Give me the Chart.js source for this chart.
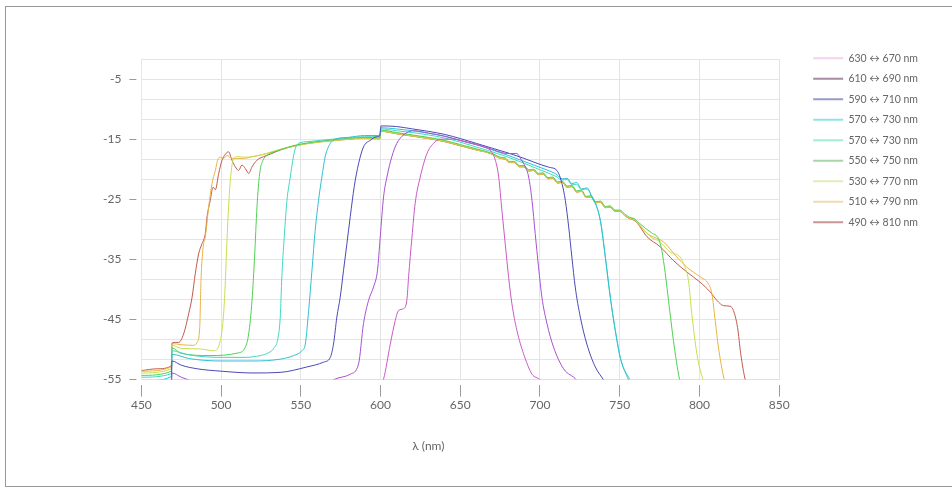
<!DOCTYPE html>
<html>
<head>
<meta charset="utf-8">
<script src="https://cdn.jsdelivr.net/npm/chart.js@4.4.1/dist/chart.umd.min.js"></script>
<style>
  html, body { margin: 0; padding: 0; background: #fff; overflow: hidden; }
  #wrap { position: relative; width: 952px; height: 490px; }
  #frame { position: absolute; left: 5px; top: 6px; width: 960px; height: 481px; border: 1.5px solid #999; box-sizing: border-box; pointer-events: none; }
</style>
</head>
<body>
<div id="wrap">
  <div id="frame"></div>
  <canvas id="spectrum"></canvas>
</div>
<script>
// filter pairs (legend order)
var labels = ['630 ↔ 670 nm', '610 ↔ 690 nm', '590 ↔ 710 nm', '570 ↔ 730 nm', '570 ↔ 730 nm',
              '550 ↔ 750 nm', '530 ↔ 770 nm', '510 ↔ 790 nm', '490 ↔ 810 nm'];
var lineColors = ['#c95ac6', '#a652cf', '#4a4ab6', '#33bfd4', '#3fd9c2', '#52d052', '#c6e04e', '#e8b444', '#c25a4a'];
var legendColors = ['#f3d3ec', '#a58ca4', '#9a9ac8', '#8fe3e6', '#a6ecd6', '#a9d6a6', '#e4ebb8', '#ecdcae', '#c99494'];

var xTicks = [450, 500, 550, 600, 650, 700, 750, 800, 850];
var yGrid = [-55, -51.667, -48.333, -45, -41.667, -38.333, -35, -31.667, -28.333, -25, -21.667, -18.333, -15, -11.667, -8.333, -5, -1.667];
var yLabels = [-55, -45, -35, -25, -15, -5];

// 630 <-> 670
var wl630 = [598, 601.9, 606.1, 609.2, 611.3, 614.4, 616.5, 617.6, 619.7, 621.7, 624.9, 629.1, 633.2, 637.4, 645, 655, 665, 669, 672, 674.1, 676.1, 678.2, 680.3, 682.4, 685.5, 689.7, 695, 700.2, 702];
var db630 = [-57, -54.9, -49.1, -45.2, -43.5, -43.2, -41.8, -37.9, -31.3, -25.7, -21.3, -17.4, -15.7, -15.0, -15.0, -15.6, -16.3, -16.9, -18.5, -21.3, -26.8, -32.4, -37.9, -42.4, -46.8, -50.7, -54.1, -55.1, -56];

// 610 <-> 690
var wl610 = [468.8, 469.2, 475, 481, 490, 560, 571.6, 581, 586.2, 589.3, 592.5, 595.6, 598.1, 599.8, 601.9, 604, 607.1, 610.2, 614.4, 620.7, 630, 640, 650, 660, 670, 680, 685.5, 688, 690.8, 692.9, 695, 697, 699.1, 701.2, 704.4, 708.5, 714.8, 723, 725];
var db610 = [-57, -53.9, -54.6, -55.2, -56, -56.5, -54.9, -54.1, -52.4, -45.7, -41.8, -39.6, -36.8, -31.3, -24.6, -21.3, -17.9, -15.7, -14.3, -13.6, -14.0, -14.5, -15.2, -15.9, -16.7, -17.4, -17.4, -18.3, -19.6, -21.3, -25.2, -30.7, -36.3, -41.3, -45.7, -49.6, -53.2, -55.1, -56];

// 590 <-> 710
var wl590 = [468.8, 469.2, 475, 485, 500, 520, 537, 553.8, 564.3, 568.5, 570.5, 572.6, 574.7, 576.8, 578.9, 581, 583.5, 586.2, 589.3, 593.5, 597.7, 599.6, 600.2, 610, 620, 630, 640, 650, 660, 670, 680, 690, 700, 706, 710.6, 713.8, 715.9, 718, 720, 722.1, 725.3, 729.4, 734.7, 740, 742];
var db590 = [-57, -51.9, -52.6, -53.2, -53.6, -53.9, -53.8, -52.9, -52.1, -51.3, -49.1, -44.6, -41.3, -36.8, -32.4, -27.9, -22.9, -19.1, -16.3, -15.2, -14.6, -14.4, -12.8, -12.9, -13.3, -13.7, -14.2, -14.9, -15.7, -16.5, -17.3, -18.2, -19.2, -19.7, -20.2, -22.4, -25.2, -29.6, -34.6, -39.6, -44.6, -49.1, -52.9, -55.1, -56];

// 570 <-> 730 (first)
var wl570a = [450, 468.8, 469.2, 480, 500, 520, 537, 545.5, 550.7, 552.8, 554.9, 557, 559, 561.1, 563.2, 565.3, 568.5, 571.6, 580, 590, 599.6, 600.2, 610, 620, 630, 640, 650, 660, 670, 680, 690, 700, 710, 714, 717, 720, 723, 726, 729.5, 732.6, 735.7, 737.8, 739.9, 742, 744.1, 747.2, 750.3, 755.6, 757];
var db570a = [-55.3, -54.5, -50.8, -51.5, -51.9, -51.9, -51.6, -51.0, -50.2, -49.1, -43.5, -36.8, -30.2, -25.2, -21.3, -17.9, -15.7, -15.0, -14.7, -14.4, -14.4, -13.1, -13.3, -13.6, -14.0, -14.5, -15.2, -15.9, -16.8, -17.7, -18.7, -19.7, -20.8, -21.6, -21.5, -22.4, -22.2, -23.3, -23.1, -24.6, -26.3, -28.5, -32.4, -36.8, -41.3, -46.8, -51.3, -55.1, -56];

// 570 <-> 730 (second)
var wl570b = [450, 468.8, 469.2, 480, 500, 515, 524.6, 530, 533, 535.5, 537.1, 538.1, 539.6, 541.3, 543.4, 545, 546.5, 548.6, 555, 570, 590, 599.6, 600.2, 610, 620, 630, 640, 650, 660, 670, 680, 690, 700, 710, 714, 717, 720, 723, 726, 729.5, 733, 736.5, 738.6, 740.7, 742.8, 745, 748, 751, 756.5, 758];
var db570b = [-54.6, -54.0, -50.2, -50.9, -51.3, -51.3, -51.0, -50.5, -49.8, -48.3, -44.6, -37.9, -31.3, -25.2, -21.3, -18.5, -16.6, -15.7, -15.4, -15.0, -14.6, -14.5, -13.3, -13.6, -13.9, -14.3, -14.8, -15.5, -16.3, -17.1, -18.0, -19.0, -20.1, -21.2, -21.8, -21.7, -22.6, -22.5, -23.4, -23.3, -24.9, -27.0, -29.6, -34.0, -38.6, -43.0, -48.0, -52.0, -55.1, -56];

// 550 <-> 750
var wl550 = [450, 468.8, 469.2, 474.4, 493, 510, 515.2, 517.3, 519.4, 521, 522.5, 524.2, 526.3, 528.8, 537, 545, 555, 570, 590, 599.6, 600.2, 610, 620, 630, 640, 650, 660, 668,
             672, 675, 678, 681, 684, 687, 690, 693, 696, 699, 702, 705, 708, 711, 714, 717, 720, 723, 726, 729, 732, 735, 738, 741, 744, 747, 750, 753, 756, 759, 762, 766, 770, 774.4, 776.4, 778.5, 780.6, 783.7, 787.5, 789];
var db550 = [-54.3, -53.6, -49.7, -50.6, -51.0, -50.6, -49.6, -47.4, -41.8, -34.6, -26.3, -20.7, -18.5, -17.7, -16.8, -16.1, -15.6, -15.1, -14.7, -14.8, -13.5, -13.9, -14.3, -14.7, -15.2, -15.9, -16.6, -17.2,
             -17.6, -18.0, -18.1, -18.7, -18.7, -19.4, -19.4, -20.1, -20.0, -20.7, -20.6, -21.4, -21.3, -22.1, -22.0, -22.8, -22.7, -23.6, -23.5, -24.5, -24.4, -25.4, -25.3, -26.2, -26.1, -26.8, -26.8, -27.4, -28.0, -28.2, -28.9, -29.8, -30.6, -31.6, -33.5, -37.2, -41.8, -48.5, -54.9, -56];

// 530 <-> 770
var wl530 = [450, 468.8, 469.2, 475, 487, 495.3, 499.5, 501.6, 502.7, 503.7, 504.7, 505.8, 507.5, 510, 514, 520, 528, 537, 545, 555, 570, 590, 599.6, 600.2, 610, 620, 630, 640, 650, 660, 668,
             672, 675, 678, 681, 684, 687, 690, 693, 696, 699, 702, 705, 708, 711, 714, 717, 720, 723, 726, 729, 732, 735, 738, 741, 744, 747, 750, 753, 756, 759, 762, 766, 769, 775.4, 781.6, 787.9, 790, 793.1, 795.2, 798.4, 802.1, 804];
var db530 = [-53.9, -53.2, -49.3, -49.8, -49.9, -50.2, -48.5, -44.0, -38.5, -31.8, -26.3, -21.8, -18.5, -17.9, -18.0, -17.9, -17.4, -16.7, -16.2, -15.7, -15.2, -14.8, -14.9, -13.6, -14.0, -14.4, -14.8, -15.3, -16.0, -16.7, -17.3,
             -17.7, -18.1, -18.2, -18.8, -18.8, -19.5, -19.5, -20.2, -20.1, -20.8, -20.7, -21.5, -21.4, -22.2, -22.1, -22.9, -22.8, -23.7, -23.6, -24.6, -24.5, -25.5, -25.4, -26.3, -26.2, -26.9, -26.9, -27.6, -28.1, -28.3, -29.1, -30.3, -31.2, -32.1, -33.8, -34.6, -35.7, -38.5, -44.0, -50.7, -54.9, -56];

// 510 <-> 790
var wl510 = [450, 468.8, 469.2, 475, 482.8, 485, 486.6, 487.4, 488.7, 490.1, 492.2, 494.3, 496.4, 497.8, 499.5, 501.6, 503.7, 506.8, 510, 514, 520, 528.8, 537, 545, 555, 570, 590, 599.6, 600.2, 610, 620, 630, 640, 650, 660, 668,
             672, 675, 678, 681, 684, 687, 690, 693, 696, 699, 702, 705, 708, 711, 714, 717, 720, 723, 726, 729, 732, 735, 738, 741, 744, 747, 750, 753, 756, 759, 762, 766, 769, 777.5, 785.8, 792.1, 800.4, 805.7, 807.8, 809.9, 811.9, 815.5, 817];
var db510 = [-53.6, -52.9, -49.0, -49.2, -49.3, -48.8, -46.3, -38.5, -33.0, -31.3, -26.3, -22.4, -20.2, -18.5, -18.0, -18.2, -17.7, -18.2, -18.2, -18.2, -17.9, -17.4, -16.7, -16.2, -15.7, -15.3, -14.9, -15.0, -13.7, -14.1, -14.5, -14.9, -15.4, -16.1, -16.8, -17.3,
             -17.8, -18.2, -18.3, -18.9, -18.9, -19.6, -19.6, -20.3, -20.2, -20.9, -20.8, -21.6, -21.5, -22.3, -22.2, -23.0, -22.9, -23.8, -23.7, -24.7, -24.6, -25.6, -25.5, -26.4, -26.3, -27.0, -27.0, -27.7, -28.2, -28.4, -29.2, -30.4, -31.0, -32.1, -34.6, -36.3, -37.9, -39.1, -40.7, -45.2, -49.6, -54.9, -56];

// 490 <-> 810
var wl490 = [450, 460, 468.8, 469.2, 473.4, 476.5, 479.7, 481.8, 483.8, 485.9, 488, 490.1, 491.2, 493.2, 494.9, 496.4, 498.5, 500.6, 502.7, 504.7, 506.8, 508.9, 511, 513.1, 515.2, 517.3, 519.4, 522.5, 526.7, 530.9, 537.1, 545, 550, 560, 570, 580, 590, 599.6, 600.2, 610, 620, 630, 640, 650, 660, 668,
             672, 675, 678, 681, 684, 687, 690, 693, 696, 699, 702, 705, 708, 711, 714, 717, 720, 723, 726, 729, 732, 735, 738, 741, 744, 747, 750, 753, 756, 759, 762, 767, 775.4, 783.7, 792.1, 800.4, 806.7, 810.9, 815.1, 819.3, 821.3, 823.9, 825.9, 828.7, 830];
var db490 = [-53.5, -53.2, -52.7, -48.9, -48.8, -47.4, -44.0, -41.3, -37.4, -34.1, -32.4, -30.7, -27.9, -25.2, -23.0, -23.4, -20.7, -18.5, -17.5, -17.1, -18.5, -19.6, -20.2, -19.3, -19.9, -20.7, -19.6, -18.5, -17.9, -17.5, -16.8, -16.2, -15.9, -15.5, -15.2, -15.0, -14.8, -14.9, -13.7, -14.1, -14.5, -14.9, -15.4, -16.1, -16.8, -17.3,
             -17.8, -18.2, -18.3, -18.9, -18.9, -19.6, -19.6, -20.3, -20.2, -20.9, -20.8, -21.6, -21.5, -22.3, -22.2, -23.0, -22.9, -23.8, -23.7, -24.7, -24.6, -25.6, -25.5, -26.4, -26.3, -27.0, -27.0, -27.7, -28.2, -28.5, -29.3, -31.2, -32.9, -35.2, -37.1, -38.8, -40.4, -41.8, -42.7, -42.8, -43.5, -46.3, -50.7, -55.0, -56];

var wavelengths = [wl630, wl610, wl590, wl570a, wl570b, wl550, wl530, wl510, wl490];
var levels = [db630, db610, db590, db570a, db570b, db550, db530, db510, db490];

var datasets = labels.map(function (name, i) {
    return {
        label: name,
        data: wavelengths[i].map(function (x, j) { return { x: x, y: levels[i][j] }; }),
        borderColor: lineColors[i],
        backgroundColor: lineColors[i],
        borderWidth: 1,
        pointRadius: 0,
        cubicInterpolationMode: 'monotone',
        fill: false
    };
});

// legend sits to the right of the plot, top aligned with it
var legendPlace = {
    id: 'legendPlace',
    afterLayout: function (chart) {
        var lg = chart.legend;
        var dx = chart.chartArea.right + 24 - lg.left;
        var dy = chart.chartArea.top - 16 - lg.top;
        lg.left += dx; lg.right += dx;
        lg.top += dy; lg.bottom += dy;
    }
};

var axisTitle = {
    id: 'axisTitle',
    afterDraw: function (chart) {
        var ctx = chart.ctx, a = chart.chartArea;
        ctx.save();
        ctx.font = '12px Lato, "Noto Sans", sans-serif';
        ctx.fillStyle = '#666';
        ctx.textAlign = 'center';
        ctx.textBaseline = 'middle';
        ctx.fillText('λ (nm)', a.left + (a.right - a.left) * 0.45, a.bottom + 67);
        ctx.restore();
    }
};

Chart.defaults.font.family = 'Lato, "Noto Sans", sans-serif';
Chart.defaults.color = '#666';

var ctx = document.getElementById('spectrum').getContext('2d');
var spectrumChart = new Chart(ctx, {
    type: 'line',
    data: { datasets: datasets },
    plugins: [legendPlace, axisTitle],
    options: {
        responsive: true,
        maintainAspectRatio: false,
        animation: false,
        layout: { padding: { left: 95, right: 48, top: 59, bottom: 77 } },
        plugins: {
            tooltip: { enabled: false },
            legend: {
                position: 'right',
                align: 'start',
                labels: {
                    boxWidth: 30,
                    boxHeight: 2,
                    padding: 10,
                    color: '#666',
                    font: { size: 10.5 },
                    generateLabels: function (chart) {
                        return chart.data.datasets.map(function (ds, i) {
                            return {
                                text: ds.label, fillStyle: legendColors[i], strokeStyle: legendColors[i],
                                lineWidth: 0, hidden: false, datasetIndex: i, fontColor: '#666'
                            };
                        });
                    }
                }
            }
        },
        scales: {
            x: {
                type: 'linear',
                min: 450, max: 850,
                afterBuildTicks: function (s) { s.ticks = xTicks.map(function (v) { return { value: v }; }); },
                ticks: { font: { size: 12 }, color: '#666', padding: 1, maxRotation: 0 },
                grid: {
                    color: '#e4e4e4', lineWidth: 1,
                    tickLength: 17, tickColor: '#9a9a9a', tickWidth: 1,
                    tickBorderDash: [12, 5], tickBorderDashOffset: 12
                },
                border: { color: '#e0e0e0' }
            },
            y: {
                min: -55, max: -1.667,
                afterBuildTicks: function (s) { s.ticks = yGrid.map(function (v) { return { value: v }; }); },
                ticks: {
                    font: { size: 12 }, color: '#666', padding: 8,
                    callback: function (v) {
                        var r = Math.round(v);
                        return (Math.abs(v - r) < 0.01 && yLabels.indexOf(r) >= 0) ? String(r) : '';
                    }
                },
                grid: {
                    color: '#e4e4e4', lineWidth: 1,
                    tickLength: 12, tickWidth: 1,
                    tickColor: function (c) {
                        var r = Math.round(c.tick.value);
                        return (Math.abs(c.tick.value - r) < 0.01 && yLabels.indexOf(r) >= 0) ? '#9a9a9a' : 'rgba(0,0,0,0)';
                    },
                    tickBorderDash: [7, 5]
                },
                border: { color: '#e8e8e8' }
            }
        }
    }
});
</script>
</body>
</html>
